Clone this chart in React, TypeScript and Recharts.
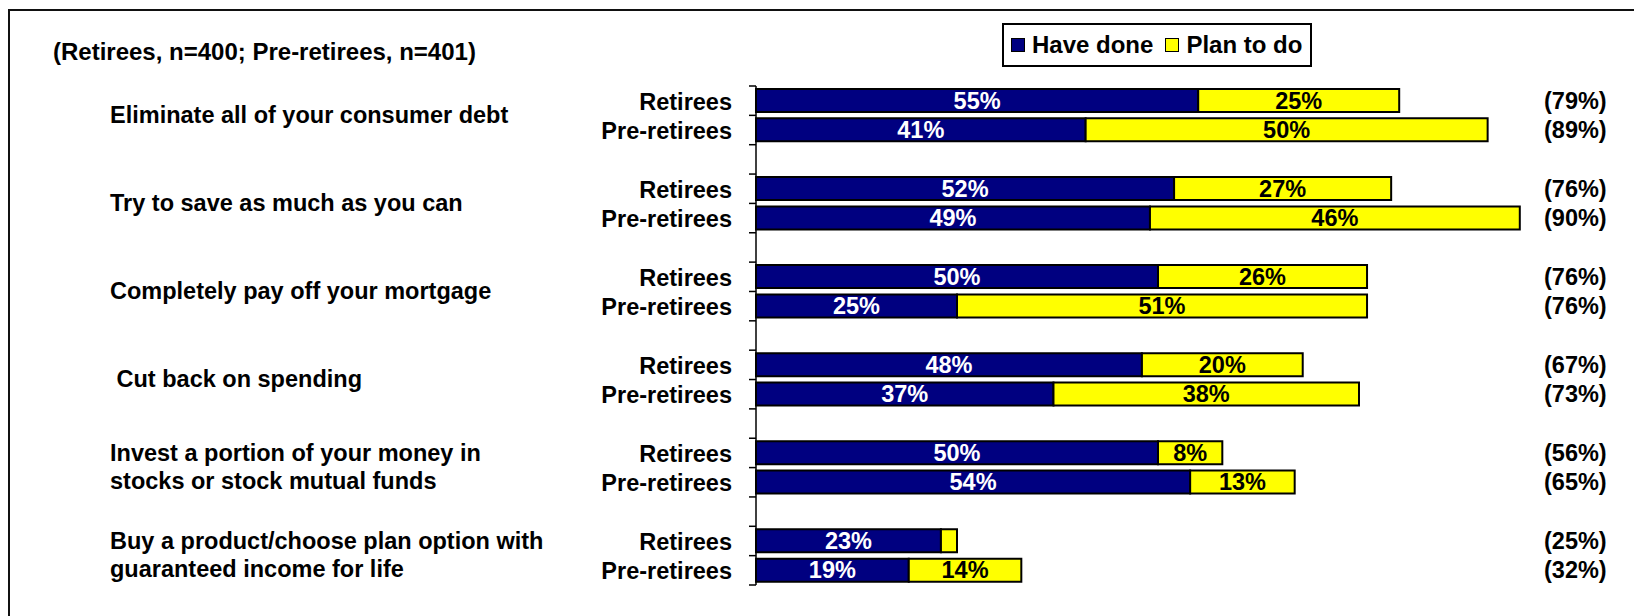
import React from 'react';
import { BarChart, Bar, XAxis, YAxis, Legend, LabelList } from 'recharts';

const title = '(Retirees, n=400; Pre-retirees, n=401)';
const topics = [
  'Eliminate all of your consumer debt',
  'Try to save as much as you can',
  'Completely pay off your mortgage',
  ' Cut back on spending',
  'Invest a portion of your money in\nstocks or stock mutual funds',
  'Buy a product/choose plan option with\nguaranteed income for life',
];
const segments = ['Retirees', 'Pre-retirees'];
const seriesNames = ['Have done', 'Plan to do'];
const retireesHaveDone = [55, 52, 50, 48, 50, 23];
const retireesPlanToDo = [25, 27, 26, 20, 8, 2];
const retireesNet = ['(79%)', '(76%)', '(76%)', '(67%)', '(56%)', '(25%)'];
const preRetireesHaveDone = [41, 49, 25, 37, 54, 19];
const preRetireesPlanToDo = [50, 46, 51, 38, 13, 14];
const preRetireesNet = ['(89%)', '(90%)', '(76%)', '(73%)', '(65%)', '(32%)'];

type Row = {
  key: string;
  segment: string;
  topic: string;
  net: string;
  haveDone?: number;
  planToDo?: number;
};

const rows: Row[] = [];
topics.forEach((topic, i) => {
  rows.push({ key: `r${i}`, segment: segments[0], topic, net: retireesNet[i], haveDone: retireesHaveDone[i], planToDo: retireesPlanToDo[i] });
  rows.push({ key: `p${i}`, segment: segments[1], topic, net: preRetireesNet[i], haveDone: preRetireesHaveDone[i], planToDo: preRetireesPlanToDo[i] });
  if (i < topics.length - 1) rows.push({ key: `g${i}`, segment: '', topic: '', net: '' });
});

const W = 1634;
const H = 616;
const M = { top: 86, right: 74, bottom: 31, left: 0 };
const AXIS_W = 756;
const BAND = (H - M.top - M.bottom) / rows.length;
const FONT = '"Liberation Sans", Arial, Helvetica, sans-serif';
const NAVY = '#000080';
const YELLOW = '#FFFF00';
const TOPIC_X = 110;
const NET_X = 1544;
const LINE_H = 28.5;

const textStyle: React.CSSProperties = { fontFamily: FONT, fontWeight: 700, fontSize: 23.5 };

const AxisTick = (props: any) => {
  const { y, payload } = props;
  const i: number = payload && payload.index != null ? payload.index : props.index;
  const row = rows[i];
  if (!row) return null;
  const ax = AXIS_W;
  const els: React.ReactNode[] = [];
  els.push(<line key="tt" x1={ax - 7} x2={ax} y1={y - BAND / 2} y2={y - BAND / 2} stroke="#000" strokeWidth={1.5} />);
  if (i === rows.length - 1) {
    els.push(<line key="tb" x1={ax - 7} x2={ax} y1={y + BAND / 2} y2={y + BAND / 2} stroke="#000" strokeWidth={1.5} />);
  }
  if (row.segment) {
    els.push(
      <text key="s" x={ax - 24} y={y + 9} textAnchor="end" fill="#000" style={textStyle}>{row.segment}</text>
    );
    els.push(
      <text key="n" x={NET_X} y={y + 8} textAnchor="start" fill="#000" style={textStyle}>{row.net}</text>
    );
  }
  if (row.segment === segments[1]) {
    const lines = row.topic.split('\n');
    const cy = y - BAND / 2;
    lines.forEach((ln, k) => {
      els.push(
        <text key={`t${k}`} x={TOPIC_X} y={cy + (k - (lines.length - 1) / 2) * LINE_H + 7.5} textAnchor="start" fill="#000" style={{ ...textStyle, whiteSpace: 'pre' }}>{ln}</text>
      );
    });
  }
  return <g>{els}</g>;
};

const makeLabel = (color: string) => (props: any) => {
  const { x, y, width, height, value } = props;
  if (value == null || value < 5) return null;
  return (
    <text x={x + width / 2} y={y + height / 2 + 8} textAnchor="middle" fill={color} style={textStyle}>
      {`${value}%`}
    </text>
  );
};

const LegendContent = (props: any) => {
  const items = props.payload || [];
  return (
    <div
      style={{
        boxSizing: 'border-box',
        width: 310,
        height: 44,
        border: '2px solid #000',
        background: '#fff',
        display: 'flex',
        flexWrap: 'nowrap',
        whiteSpace: 'nowrap',
        alignItems: 'center',
        paddingLeft: 7,
        overflow: 'visible',
        ...textStyle,
        fontSize: 24,
        lineHeight: '26px',
        color: '#000',
      }}
    >
      {items.map((it: any, k: number) => (
        <span key={k} style={{ display: 'flex', flexShrink: 0, whiteSpace: 'nowrap', alignItems: 'center', marginRight: 12 }}>
          <span style={{ display: 'inline-block', flexShrink: 0, boxSizing: 'border-box', width: 14, height: 14, background: it.color, border: '1.5px solid #000', marginRight: 7 }} />
          <span style={{ whiteSpace: 'nowrap' }}>{it.value}</span>
        </span>
      ))}
    </div>
  );
};

export default function App() {
  return (
    <div style={{ position: 'absolute', left: 0, top: 0, width: W, height: H, background: '#fff', overflow: 'hidden' }}>
      <div style={{ position: 'absolute', left: 8, top: 9, width: W, height: H, borderLeft: '2px solid #111', borderTop: '2px solid #111' }} />
      <div style={{ position: 'absolute', left: 53, top: 40, ...textStyle, fontSize: 24, lineHeight: '23px', whiteSpace: 'nowrap', color: '#000' }}>{title}</div>
      <div style={{ position: 'absolute', left: 0, top: 0 }}>
        <BarChart width={W} height={H} data={rows} layout="vertical" margin={M} barSize={23}>
          <XAxis type="number" domain={[0, 100]} hide />
          <YAxis
            type="category"
            dataKey="key"
            width={AXIS_W}
            interval={0}
            axisLine={{ stroke: '#000', strokeWidth: 1.5 }}
            tickLine={false}
            tickSize={0}
            tickMargin={0}
            tick={(p: any) => <AxisTick {...p} />}
          />
          <Legend
            layout="horizontal"
            verticalAlign="middle"
            align="center"
            content={(p: any) => <LegendContent {...p} />}
            wrapperStyle={{ position: 'absolute', left: 1002, top: 23, width: 310, height: 44, right: 'auto', bottom: 'auto', whiteSpace: 'nowrap' }}
          />
          <Bar dataKey="haveDone" name={seriesNames[0]} stackId="a" fill={NAVY} stroke="#000" strokeWidth={2} isAnimationActive={false}>
            <LabelList dataKey="haveDone" content={makeLabel('#fff')} />
          </Bar>
          <Bar dataKey="planToDo" name={seriesNames[1]} stackId="a" fill={YELLOW} stroke="#000" strokeWidth={2} isAnimationActive={false}>
            <LabelList dataKey="planToDo" content={makeLabel('#000')} />
          </Bar>
        </BarChart>
      </div>
    </div>
  );
}
